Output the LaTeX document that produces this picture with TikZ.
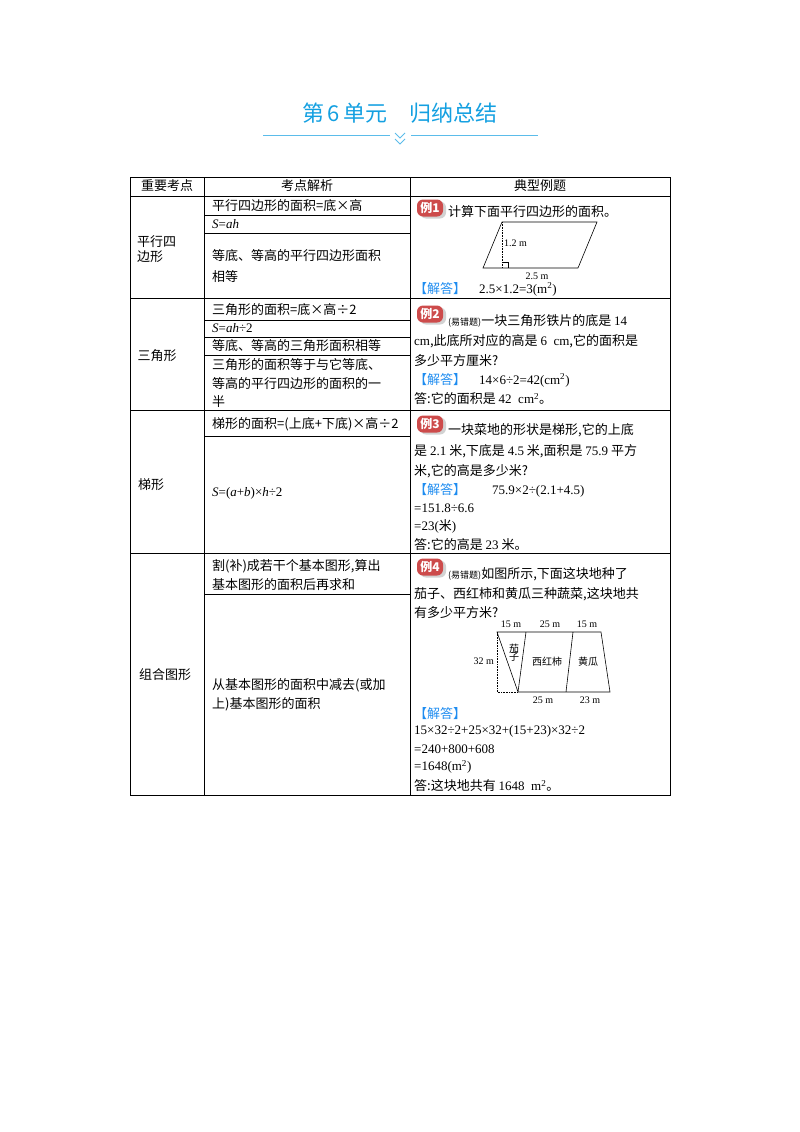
\documentclass[tikz,border=0pt]{standalone}
\usepackage{fontspec}
\usetikzlibrary{calc}
\setmainfont{Noto Sans CJK SC}
\newfontfamily\tm{Liberation Serif}
\definecolor{tcyan}{RGB}{20,160,225}
\definecolor{bred}{RGB}{205,75,75}
\definecolor{jblue}{RGB}{30,140,240}
\begin{document}
\begin{tikzpicture}[x=1pt,y=-1pt,
  t/.style={anchor=west,inner sep=0,font=\fontsize{13}{15}\selectfont},
  c/.style={inner sep=0,font=\fontsize{13}{15}\selectfont},
  s/.style={inner sep=0,font=\tm\fontsize{10}{12}\selectfont},
  grid/.style={line width=0.8pt},
  badge/.style={fill=bred,rounded corners=6pt,minimum width=26pt,minimum height=17pt,inner sep=0,text=white,font=\bfseries\fontsize{12}{13}\selectfont},
  shd/.style={fill=gray!35,rounded corners=6pt,minimum width=26pt,minimum height=17pt,inner sep=0},
  fig/.style={line width=0.6pt}]
\useasboundingbox (0,0) rectangle (800,1132);
\newcommand\jd{\textcolor{jblue}{【解答】}}
\newcommand\badgeat[3]{\node[shd] (#1s) at ($(#2)+(3,2)$) {}; \node[badge] (#1) at (#2) {#3};}
% title
\node[inner sep=0,text=tcyan,font=\fontsize{22}{24}\selectfont] (title) at (400,113) {第\,6\,单元\quad 归纳总结};
\coordinate (l1) at (263,135); \coordinate (l2) at (390,135);
\coordinate (l3) at (411,135); \coordinate (l4) at (538,135);
\draw[tcyan!70,line width=0.8pt] (l1)--(l2) (l3)--(l4);
\draw[tcyan!70,line width=1pt] (395,133)--(400,138)--(405,133) (395,139)--(400,144)--(405,139);
% table
\draw[grid] (130,177) rectangle (670,795);
\draw[grid] (130,196)--(670,196) (130,298)--(670,298) (130,410)--(670,410) (130,553)--(670,553);
\draw[grid] (204,177)--(204,795) (410,177)--(410,795);
\draw[grid] (204,215)--(410,215) (204,233)--(410,233)
  (204,320)--(410,320) (204,337)--(410,337) (204,355)--(410,355)
  (204,436)--(410,436) (204,594)--(410,594);
% header
\node[c] (h1) at (167,186) {重要考点};
\node[c] (h2) at (307,186) {考点解析};
\node[c] (h3) at (540,186) {典型例题};
% column 1
\node[t,align=left] (k1) at (137,249) {平行四\\边形};
\node[c] (k2) at (157,356) {三角形};
\node[c] (k3) at (151,485) {梯形};
\node[c] (k4) at (165,675) {组合图形};
% column 2
\node[t] (a1) at (212,206) {平行四边形的面积=底×高};
\node[t] (a2) at (212,224) {\tm\itshape S\upshape=\itshape ah};
\node[t] (a3) at (212,256) {等底、等高的平行四边形面积};
\node[t] (a4) at (212,277) {相等};
\node[t] (b1) at (212,310) {三角形的面积=底×高÷2};
\node[t] (b2) at (212,328) {\tm\itshape S\upshape=\itshape ah\upshape÷2};
\node[t] (b3) at (212,346) {等底、等高的三角形面积相等};
\node[t] (b4) at (212,365) {三角形的面积等于与它等底、};
\node[t] (b5) at (212,384) {等高的平行四边形的面积的一};
\node[t] (b6) at (212,402) {半};
\node[t] (c1) at (212,424) {梯形的面积=(上底+下底)×高÷2};
\node[t] (c2) at (212,493) {\tm\itshape S\upshape=(\itshape a\upshape+\itshape b\upshape)×\itshape h\upshape÷2};
\node[t] (d1) at (212,566) {割(补)成若干个基本图形,算出};
\node[t] (d2) at (212,585) {基本图形的面积后再求和};
\node[t] (d3) at (212,685) {从基本图形的面积中减去(或加};
\node[t] (d4) at (212,704) {上)基本图形的面积};
% example 1
\badgeat{e1}{430,208}{例1}
\node[t] (e1t) at (448,212) {计算下面平行四边形的面积。};
\draw[fig] (502,222)--(597,222)--(578,268)--(483,268)--cycle;
\draw[fig,densely dotted] (502,222)--(502,268);
\draw[fig] (502,262)--(508,262)--(508,268);
\node[s,anchor=west] (f1h) at (504,243) {1.2 m};
\node[s] (f1b) at (537,276) {2.5 m};
\node[t] (e1a) at (414,289) {\jd\quad {\tm 2.5×1.2=3(m\textsuperscript{2})}};
% example 2
\badgeat{e2}{430,314}{例2}
\node[t] (e2t) at (448,321) {{\fontsize{9}{10}\selectfont (易错题)}一块三角形铁片的底是 {\tm 14}};
\node[t] (e2t2) at (414,341) {{\tm cm},此底所对应的高是 {\tm 6\ \ cm},它的面积是};
\node[t] (e2t3) at (414,361) {多少平方厘米?};
\node[t] (e2a) at (414,380) {\jd\quad {\tm 14×6÷2=42(cm\textsuperscript{2})}};
\node[t] (e2b) at (414,399) {答:它的面积是 {\tm 42\ \ cm\textsuperscript{2}}。};
% example 3
\badgeat{e3}{430,424}{例3}
\node[t] (e3t) at (448,430) {一块菜地的形状是梯形,它的上底};
\node[t] (e3t2) at (414,451) {是 {\tm 2.1} 米,下底是 {\tm 4.5} 米,面积是 {\tm 75.9} 平方};
\node[t] (e3t3) at (414,471) {米,它的高是多少米?};
\node[t] (e3a) at (414,490) {\jd\qquad {\tm 75.9×2÷(2.1+4.5)}};
\node[t] (e3b) at (414,508) {\tm =151.8÷6.6};
\node[t] (e3c) at (414,526) {{\tm =23(}米{\tm )}};
\node[t] (e3d) at (414,545) {答:它的高是 {\tm 23} 米。};
% example 4
\badgeat{e4}{430,567}{例4}
\node[t] (e4t) at (448,574) {{\fontsize{9}{10}\selectfont (易错题)}如图所示,下面这块地种了};
\node[t] (e4t2) at (414,594) {茄子、西红柿和黄瓜三种蔬菜,这块地共};
\node[t] (e4t3) at (414,613) {有多少平方米?};
\coordinate (p1) at (497,632); \coordinate (p2) at (526,632);
\coordinate (p3) at (573,632); \coordinate (p4) at (601,632);
\coordinate (q0) at (497,692); \coordinate (q1) at (518,692);
\coordinate (q2) at (566,692); \coordinate (q3) at (610,692);
\draw[fig] (p1)--(p4)--(q3)--(q1)--cycle (p2)--(q1) (p3)--(q2);
\draw[fig,densely dotted] (p1)--(q0)--(q1);
\node[s] (m1) at (511,624) {15 m};
\node[s] (m2) at (550,624) {25 m};
\node[s] (m3) at (587,624) {15 m};
\node[s,anchor=east] (m4) at (494,661) {32 m};
\node[s] (m5) at (543,700) {25 m};
\node[s] (m6) at (590,700) {23 m};
\node[inner sep=0,font=\fontsize{10}{11}\selectfont,align=center] (v1) at (514,653) {茄\\[-3pt]子};
\node[inner sep=0,font=\fontsize{10}{11}\selectfont] (v2) at (547,662) {西红柿};
\node[inner sep=0,font=\fontsize{10}{11}\selectfont] (v3) at (588,662) {黄瓜};
\node[t] (e4a) at (414,714) {\jd};
\node[t] (e4b) at (414,731) {\tm 15×32÷2+25×32+(15+23)×32÷2};
\node[t] (e4c) at (414,749) {\tm =240+800+608};
\node[t] (e4d) at (414,767) {\tm =1648(m\textsuperscript{2})};
\node[t] (e4e) at (414,786) {答:这块地共有 {\tm 1648\ \ m\textsuperscript{2}}。};
\end{tikzpicture}
\end{document}
